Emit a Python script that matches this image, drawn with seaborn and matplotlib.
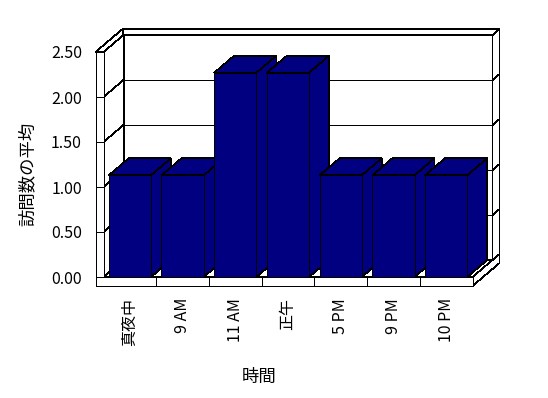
import numpy as np
import pandas as pd
import matplotlib
matplotlib.use('Agg')
import matplotlib.pyplot as plt
import seaborn as sns
from matplotlib.patches import Polygon
from matplotlib.lines import Line2D

categories = ['真夜中', '9 AM', '11 AM', '正午', '5 PM', '9 PM', '10 PM']
values = [1.13, 1.13, 2.27, 2.27, 1.13, 1.13, 1.13]
y_ticks = [0.0, 0.5, 1.0, 1.5, 2.0, 2.5]
y_tick_labels = ['0.00', '0.50', '1.00', '1.50', '2.00', '2.50']
x_label = '時間'
y_label = '訪問数の平均'

sns.set_theme(style='white')
plt.rcParams['font.family'] = ['Noto Sans CJK JP', 'DejaVu Sans']

W, H = 548, 398
fig = plt.figure(figsize=(W / 100, H / 100), dpi=100)
fig.patch.set_facecolor('white')
L, R, T, B = 103.5, 472.5, 52, 277
ax = fig.add_axes([L / W, 1 - B / H, (R - L) / W, (B - T) / H])
ax.set_facecolor('none')

df = pd.DataFrame({'cat': categories, 'val': values})
sns.barplot(data=df, x='cat', y='val', color='#000080', saturation=1,
            width=0.8, edgecolor='black', linewidth=0.5, ax=ax)

xmin, xmax = -0.5, len(categories) - 0.5
ymax = 2.5
ax.set_xlim(xmin, xmax)
ax.set_ylim(0, ymax)

# oblique projection parameters (data units)
DX = 20 / ((R - L) / len(categories))
DY = 17 / ((B - T) / ymax)
t = 8 / ((R - L) / len(categories))   # wall thickness (x)
f = 9 / ((B - T) / ymax)              # floor thickness (y)
ZB, ZO = 1.0, 1.35                    # back wall inner / outer depth
LW = 0.5


def P(X, Y, Z):
    return (X + Z * DX, Y + Z * DY)


def poly(pts, z, fc='white'):
    ax.add_patch(Polygon(pts, closed=True, facecolor=fc, edgecolor='black',
                         lw=LW, zorder=z, clip_on=False, joinstyle='miter',
                         antialiased=False))


def line(p1, p2, z):
    ax.add_line(Line2D([p1[0], p2[0]], [p1[1], p2[1]], color='black', lw=LW,
                       zorder=z, clip_on=False, antialiased=False))


xl = xmin - t
# back wall: inner face, top, right side
poly([P(xmin, 0, ZB), P(xmax, 0, ZB), P(xmax, ymax, ZB), P(xmin, ymax, ZB)], 0.5)
poly([P(xl, ymax, ZB), P(xmax, ymax, ZB), P(xmax, ymax, ZO), P(xl, ymax, ZO)], 0.6)
poly([P(xmax, -f, ZB), P(xmax, ymax, ZB), P(xmax, ymax, ZO), P(xmax, -f, ZO)], 0.6)
# left wall: inner side and top
poly([P(xmin, 0, 0), P(xmin, 0, ZB), P(xmin, ymax, ZB), P(xmin, ymax, 0)], 0.7)
poly([P(xl, ymax, 0), P(xmin, ymax, 0), P(xmin, ymax, ZB), P(xl, ymax, ZO)], 0.7)
# floor: top and right side
poly([P(xmin, 0, 0), P(xmax, 0, 0), P(xmax, 0, ZB), P(xmin, 0, ZB)], 0.8)
poly([P(xmax, -f, 0), P(xmax, 0, 0), P(xmax, 0, ZO), P(xmax, -f, ZO)], 0.8)
# front L-shaped face
poly([(xl, -f), (xmax, -f), (xmax, 0), (xmin, 0), (xmin, ymax), (xl, ymax)], 0.9)

# gridlines and ticks
for v in y_ticks[1:-1]:
    line(P(xmin, v, 0), P(xmin, v, ZB), 0.85)
    line(P(xmin, v, ZB), P(xmax, v, ZB), 0.85)
    line(P(xmax, v, ZB), P(xmax, v, ZO), 0.85)
for v in y_ticks:
    line((xl, v), (xmin, v), 0.95)
for k in range(1, len(categories)):
    line((xmin + k, 0), (xmin + k, -f), 0.95)

# 3D bar faces
for i, p in enumerate(ax.patches[:len(categories)]):
    x0, w, h = p.get_x(), p.get_width(), p.get_height()
    base = 10 + 3 * i
    poly([(x0 + w, 0), (x0 + w, h), P(x0 + w, h, ZB), P(x0 + w, 0, ZB)], base, '#000080')
    poly([(x0, h), (x0 + w, h), P(x0 + w, h, ZB), P(x0, h, ZB)], base + 1, '#000080')
    p.set_zorder(base + 2)
    p.set_clip_on(False)
    p.set_antialiased(False)
    p.set_linewidth(LW)

ax.set_yticks(y_ticks, y_tick_labels, fontsize=11.5)
ax.set_xticks(range(len(categories)), categories, rotation=90, fontsize=11.5)
ax.tick_params(axis='y', length=0, pad=15.5, colors='black')
ax.tick_params(axis='x', length=0, pad=15, colors='black')
ax.set_xlabel('')
ax.set_ylabel('')
for s in ax.spines.values():
    s.set_visible(False)

fig.text(28 / W, 1 - 174 / H, y_label, rotation=90, ha='center', va='center',
         fontsize=12.5, color='black')
fig.text(259.5 / W, 1 - 377 / H, x_label, ha='center', va='center',
         fontsize=12.5, color='black')

fig.savefig('out.png', dpi=100, facecolor='white')
